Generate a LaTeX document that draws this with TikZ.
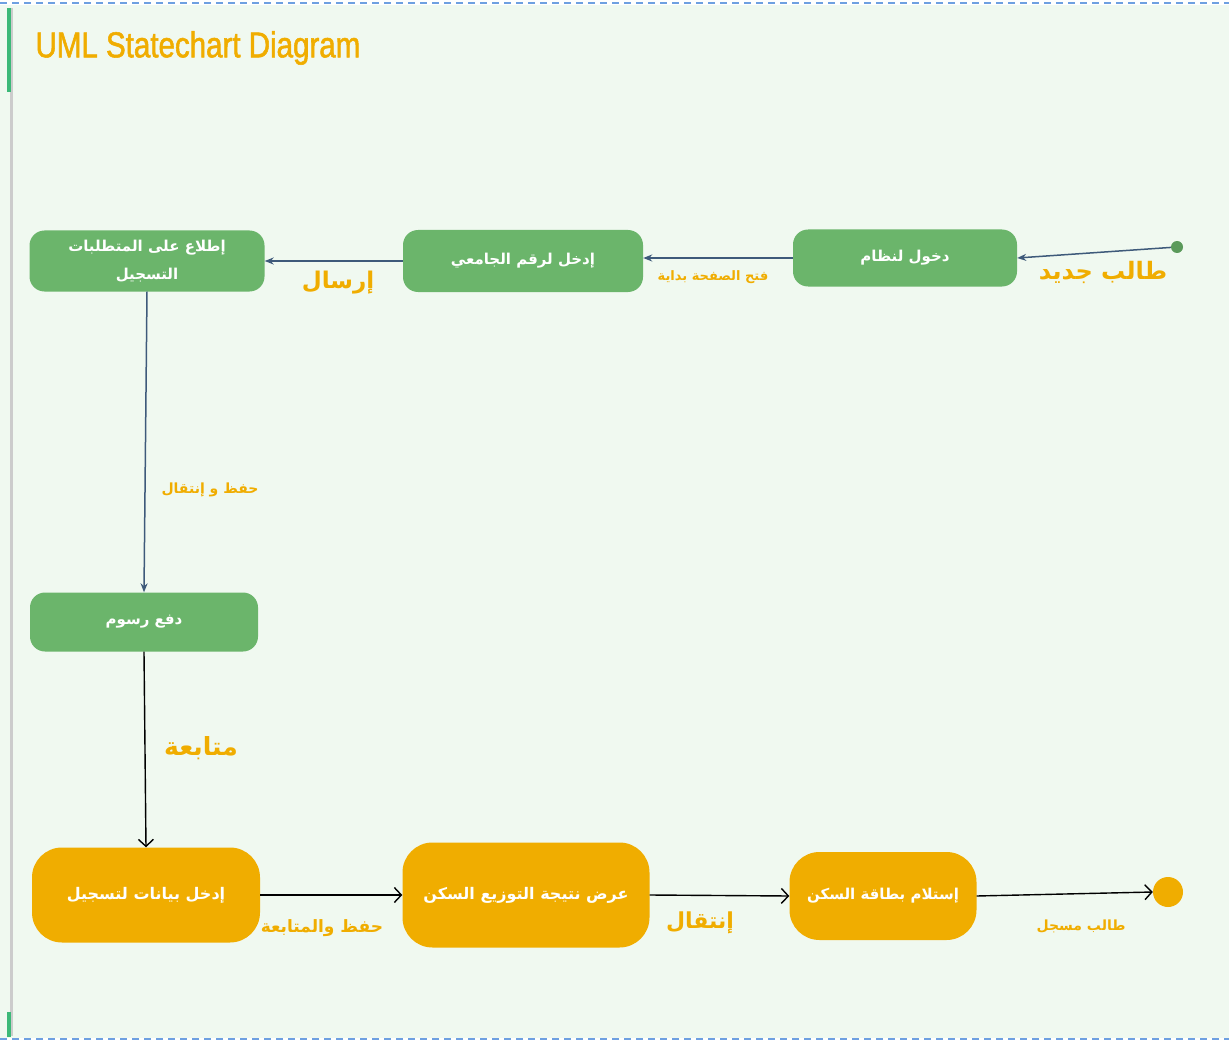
\documentclass[tikz,border=0pt]{standalone}
\usepackage{fontspec}
\setmainfont{Liberation Sans}
\newfontfamily\titlefont[FakeStretch=0.82, FakeBold=1.5]{Liberation Sans}
\newfontfamily\arabicfont[Script=Arabic]{DejaVu Sans}
\TeXXeTstate=1
\usetikzlibrary{arrows.meta, positioning}
\definecolor{stategreen}{RGB}{107, 181, 107}
\definecolor{stateorange}{RGB}{240, 173, 0}
\definecolor{paperbg}{RGB}{240, 249, 240}
\definecolor{flowblue}{RGB}{62, 90, 122}
\definecolor{frameblue}{RGB}{110, 160, 225}
\definecolor{framegreen}{RGB}{60, 185, 120}
\newcommand{\artext}[1]{{\arabicfont\bfseries\beginR #1\endR}}

\begin{document}
\begin{tikzpicture}[x=1pt, y=-1pt,
    greenstate/.style={fill=stategreen, draw=none, rounded corners=15pt, text=white, align=center, font=\fontsize{15}{19}\selectfont},
    orangestate/.style={fill=stateorange, draw=none, rounded corners=30pt, text=white, align=center, font=\fontsize{16}{20}\selectfont},
    toparrow/.style={draw=flowblue, line width=1.5pt, -{Stealth[length=9pt, width=7pt]}},
    botarrow/.style={draw=black, line width=1.4pt, -{Straight Barb[length=7pt, width=15pt]}},
    lbl/.style={text=stateorange, inner sep=0pt}]
  \useasboundingbox (0,0) rectangle (1229,1043);
  % Frame
  \fill[paperbg] (0,5) rectangle (1229,1038);
  \draw[frameblue, line width=2pt, dash pattern=on 7pt off 5pt] (0,3) -- (1229,3);
  \draw[frameblue, line width=2pt, dash pattern=on 7pt off 5pt] (0,1039) -- (1229,1039);
  \draw[black!20, line width=3pt] (11,8) -- (11,1036);
  \draw[framegreen, line width=4pt] (9,8) -- (9,92);
  \draw[framegreen, line width=4pt] (9,1012) -- (9,1037);
  \node[anchor=west, text=stateorange, font=\titlefont\fontsize{36}{40}\selectfont] (title) at (32,48) {UML Statechart Diagram};

  % Green states
  \node[greenstate, minimum width=224, minimum height=57] (login) at (905,258) {\artext{دخول لنظام}};
  \node[greenstate, minimum width=240, minimum height=62] (idnum) at (523,261) {\artext{إدخل لرقم الجامعي}};
  \node[greenstate, minimum width=235, minimum height=61, font=\fontsize{15}{28}\selectfont] (terms) at (147,261) {\artext{إطلاع على المتطلبات}\\\artext{التسجيل}};
  \node[greenstate, minimum width=228, minimum height=59] (fees) at (144,622) {\artext{دفع رسوم}};

  % Orange states
  \node[orangestate, minimum width=228, minimum height=95] (data) at (146,895) {\artext{إدخل بيانات لتسجيل}};
  \node[orangestate, minimum width=247, minimum height=105] (result) at (526,895) {\artext{عرض نتيجة التوزيع السكن}};
  \node[orangestate, minimum width=187, minimum height=88, font=\fontsize{15}{19}\selectfont] (card) at (883,896) {\artext{إستلام بطاقة السكن}};

  % Initial and final
  \node[circle, fill=stategreen!85!black, inner sep=0pt, minimum size=12] (start) at (1177,247) {};
  \node[circle, fill=stateorange, inner sep=0pt, minimum size=30] (finish) at (1168,892) {};

  % Transitions
  \draw[toparrow] (start) -- (login.east);
  \draw[toparrow] (login.west) -- (idnum.east |- login.west);
  \draw[toparrow] (idnum.west) -- (terms.east);
  \draw[toparrow] (terms.south) -- (fees.north);
  \draw[botarrow] (fees.south) -- (data.north);
  \draw[botarrow] (data.east) -- (result.west);
  \draw[botarrow] (result.east) -- (card.west);
  \draw[botarrow] (card.east) -- (finish.west);

  % Labels
  \node[lbl, font=\fontsize{24}{28}\selectfont] (newstudent) at (1103,272) {\artext{طالب جديد}};
  \node[lbl, font=\fontsize{13}{16}\selectfont] (openpage) at (713,277) {\artext{فتح الصفحة بداية}};
  \node[lbl, font=\fontsize{23}{27}\selectfont] (send) at (338,283) {\artext{إرسال}};
  \node[lbl, font=\fontsize{14}{17}\selectfont] (savemove) at (210,490) {\artext{حفظ و إنتقال}};
  \node[lbl, font=\fontsize{25}{29}\selectfont] (follow) at (201,748) {\artext{متابعة}};
  \node[lbl, font=\fontsize{17}{20}\selectfont] (savefollow) at (322,928) {\artext{حفظ والمتابعة}};
  \node[lbl, font=\fontsize{22}{26}\selectfont] (move) at (700,923) {\artext{إنتقال}};
  \node[lbl, font=\fontsize{14}{17}\selectfont] (registered) at (1081,926) {\artext{طالب مسجل}};
\end{tikzpicture}
\end{document}
